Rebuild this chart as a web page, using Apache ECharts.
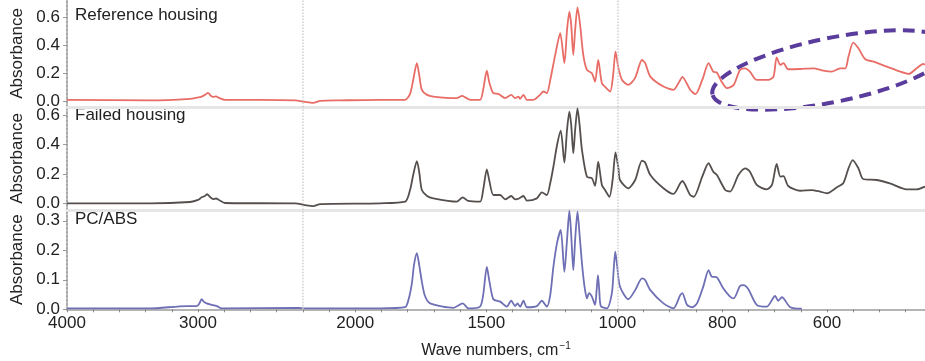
<!DOCTYPE html>
<html><head><meta charset="utf-8">
<script src="https://cdn.jsdelivr.net/npm/echarts@6/dist/echarts.min.js"></script>
<style>html,body{margin:0;padding:0;background:#fff}#c{width:925px;height:361px}</style>
</head><body><div id="c"></div>
<script>
// ---- data (wavenumber cm^-1, absorbance) ----
const wnRef = [4000,3366,3061,3000,2977,2947,2924,2901,2885,2863,2840,2794,2527,2259,2192,2161,2134,2058,1905,1810,1791,1779,1765,1756,1746,1726,1702,1613,1593,1577,1562,1524,1512,1498,1489,1473,1454,1428,1405,1390,1377,1371,1358,1345,1320,1295,1282,1269,1256,1237,1218,1202,1192,1183,1176,1168,1161,1152,1142,1130,1116,1097,1085,1073,1059,1043,1027,1016,1007,998,991,979,966,953,947,937,912,893,880,876,861,851,838,826,817,810,801,791,778,766,756,747,734,712,702,696,689,683,674,651,626,607,591,575,565,559,550,540,527,511,486,460,444,429,416,413];
const absRef = [0.011,0.007,0.018,0.028,0.032,0.046,0.060,0.039,0.032,0.035,0.025,0.011,0.011,0.007,-0.004,-0.011,0.004,0.007,0.011,0.011,0.053,0.152,0.271,0.188,0.082,0.046,0.034,0.023,0.039,0.025,0.011,0.011,0.082,0.218,0.138,0.058,0.053,0.023,0.046,0.023,0.034,0.018,0.046,0.011,0.011,0.046,0.070,0.058,0.152,0.330,0.484,0.271,0.507,0.637,0.543,0.330,0.507,0.668,0.543,0.330,0.223,0.200,0.140,0.294,0.129,0.096,0.070,0.188,0.353,0.238,0.152,0.117,0.167,0.294,0.273,0.176,0.105,0.082,0.152,0.174,0.082,0.051,0.152,0.271,0.211,0.204,0.140,0.094,0.117,0.223,0.235,0.211,0.152,0.152,0.176,0.313,0.259,0.271,0.228,0.230,0.235,0.218,0.211,0.235,0.235,0.318,0.417,0.377,0.299,0.282,0.247,0.211,0.195,0.235,0.266,0.259];

const wnFailed = [4000,3366,3061,3000,2972,2947,2931,2908,2885,2863,2840,2794,2259,2192,2161,2134,1905,1810,1791,1779,1765,1756,1746,1726,1702,1613,1590,1569,1524,1512,1498,1489,1473,1447,1428,1405,1390,1375,1358,1345,1307,1288,1269,1256,1244,1230,1216,1202,1192,1183,1176,1168,1161,1152,1144,1135,1116,1097,1085,1073,1059,1047,1030,1018,1007,998,995,979,966,953,947,937,912,893,880,876,861,854,838,826,817,810,794,785,769,756,747,734,715,705,696,689,683,674,651,629,613,600,581,569,559,551,540,531,505,480,448,429,413];
const absFailed = [-0.002,-0.003,0.007,0.021,0.039,0.048,0.060,0.041,0.027,0.031,0.021,0.0,-0.003,-0.014,-0.021,-0.007,-0.002,0.009,0.089,0.192,0.288,0.213,0.089,0.048,0.032,0.009,0.039,0.014,0.009,0.089,0.231,0.158,0.055,0.055,0.025,0.048,0.025,0.031,0.048,0.016,0.032,0.073,0.055,0.137,0.249,0.398,0.497,0.277,0.501,0.627,0.536,0.341,0.501,0.650,0.536,0.364,0.180,0.170,0.117,0.284,0.124,0.089,0.043,0.158,0.348,0.240,0.158,0.101,0.158,0.291,0.278,0.192,0.101,0.062,0.135,0.151,0.055,0.043,0.181,0.273,0.215,0.192,0.089,0.078,0.192,0.238,0.215,0.124,0.094,0.124,0.268,0.181,0.185,0.117,0.084,0.089,0.078,0.067,0.108,0.135,0.238,0.295,0.238,0.165,0.158,0.135,0.094,0.094,0.112];

const wnPCABS = [4000,3366,3086,3010,2992,2972,2954,2934,2901,2857,2819,2237,2192,1905,1810,1797,1784,1776,1765,1756,1746,1734,1714,1626,1590,1568,1524,1512,1498,1489,1473,1447,1422,1405,1390,1381,1371,1358,1345,1307,1288,1269,1256,1244,1230,1216,1202,1192,1183,1176,1168,1161,1152,1144,1135,1126,1116,1108,1097,1085,1079,1074,1069,1063,1040,1021,1014,1008,1001,995,979,966,953,947,937,912,893,880,876,867,857,848,836,826,820,810,798,785,778,766,759,750,734,715,699,693,686,670,648];
const absPCABS = [0.003,0.003,0.011,0.011,0.018,0.034,0.025,0.020,0.016,0.011,0.003,0.005,0.003,0.003,0.007,0.032,0.088,0.150,0.190,0.150,0.094,0.045,0.020,0.005,0.020,0.003,0.009,0.048,0.144,0.099,0.034,0.026,0.009,0.029,0.011,0.020,0.009,0.029,0.007,0.011,0.029,0.009,0.048,0.144,0.225,0.269,0.127,0.235,0.334,0.252,0.133,0.235,0.331,0.252,0.156,0.082,0.037,0.055,0.043,0.015,0.065,0.116,0.065,0.011,0.003,0.054,0.133,0.195,0.150,0.077,0.034,0.065,0.105,0.099,0.065,0.020,0.003,0.048,0.055,0.015,0.007,0.020,0.077,0.133,0.111,0.108,0.071,0.043,0.037,0.079,0.082,0.068,0.015,0.009,0.045,0.029,0.041,0.007,0.002];

const panelNames = ['Reference housing', 'Failed housing', 'PC/ABS'];
const xTickLabels = [4000, 3000, 2000, 1500, 1000, 800, 600];
const yTicksHousing = [0, 0.2, 0.4, 0.6];
const yTicksPCABS = [0, 0.1, 0.2, 0.3];
const scaleBreaks = [2200, 1000];
const xStart = 4000, xEnd = 413;

// piecewise wavenumber scale (each section below a break is stretched x2)
function toAxis(w) {
  if (w >= scaleBreaks[0]) return xStart - w;
  const s1 = xStart - scaleBreaks[0];
  if (w >= scaleBreaks[1]) return s1 + (scaleBreaks[0] - w) * 2;
  return s1 + (scaleBreaks[0] - scaleBreaks[1]) * 2 + (scaleBreaks[1] - w) * 4;
}
const pairs = (ws, as) => ws.map((w, i) => [toAxis(w), as[i]]);
const xMax = toAxis(xEnd);

const font = 'Liberation Sans, Arial, sans-serif';
const txt = '#222';
const colors = ['#e86d66', '#55504e', '#6e6fb4'];
const series = [[wnRef, absRef], [wnFailed, absFailed], [wnPCABS, absPCABS]];
const yRanges = [[-0.04, 0.72], [-0.048, 0.659], [0, 0.3366]];
const grids = [
  {left: 67, right: 0, top: 0, height: 107},
  {left: 67, right: 0, top: 107, height: 103},
  {left: 67, right: 0, top: 210, height: 99.3}
];

const xAxes = grids.map((g, i) => ({
  type: 'value', gridIndex: i, min: 0, max: xMax, interval: 200,
  axisLine: {show: true, onZero: false, lineStyle: {color: i === 2 ? '#b4b4b4' : '#e6e6e6', width: i === 2 ? 2 : 3}},
  axisTick: {show: i === 2, length: 3, lineStyle: {color: '#888'}},
  axisLabel: i === 2 ? {
    show: true, customValues: xTickLabels.map(toAxis), formatter: v => {
      const idx = xTickLabels.map(toAxis).findIndex(t => Math.abs(t - v) < 1e-6);
      return idx >= 0 ? String(xTickLabels[idx]) : '';
    },
    fontSize: 17, color: txt, fontFamily: font, margin: 6
  } : {show: false},
  splitLine: {show: false},
  name: i === 2 ? '{a|Wave numbers, cm}{s|\u22121}' : '',
  nameLocation: 'middle', nameGap: 32,
  nameTextStyle: {rich: {
    a: {fontSize: 16, color: txt, fontFamily: font},
    s: {fontSize: 10, color: txt, fontFamily: font, verticalAlign: 'top', padding: [0, 0, 8, 1]}
  }}
}));

const yAxes = grids.map((g, i) => {
  const ticks = i === 2 ? yTicksPCABS : yTicksHousing;
  return {
    type: 'value', gridIndex: i, min: yRanges[i][0], max: yRanges[i][1],
    axisLine: {show: true, lineStyle: {color: '#a8a8a8', width: 2, type: 'dotted'}},
    axisTick: {show: true, customValues: ticks, length: 4, lineStyle: {color: '#999'}},
    axisLabel: {show: true, customValues: ticks, formatter: v => v.toFixed(1),
      fontSize: 17, color: txt, fontFamily: font, margin: 7},
    splitLine: {show: false},
    name: 'Absorbance', nameLocation: 'middle', nameGap: 41,
    nameTextStyle: {fontSize: 17, color: txt, fontFamily: font}
  };
});

const option = {
  animation: false,
  backgroundColor: '#fff',
  grid: grids,
  xAxis: xAxes,
  yAxis: yAxes,
  series: series.map((s, i) => ({
    type: 'line', xAxisIndex: i, yAxisIndex: i,
    data: pairs(s[0], s[1]), showSymbol: false, symbol: 'none', smooth: 0.25,
    lineStyle: {color: colors[i], width: 1.8},
    markLine: {
      silent: true, symbol: 'none', label: {show: false},
      lineStyle: {color: '#cfcfcf', type: 'dotted', width: 1.5},
      data: scaleBreaks.map(b => ({xAxis: toAxis(b)}))
    }
  })),
  graphic: [
    ...panelNames.map((n, i) => ({
      type: 'text', left: 75, top: [7, 107, 211][i],
      style: {text: n, fontSize: 17, fill: txt, fontFamily: font}
    })),
    {
      type: 'ellipse', x: 832, y: 70, rotation: 11.5 * Math.PI / 180,
      shape: {cx: 0, cy: 0, rx: 122, ry: 32},
      style: {fill: 'none', stroke: '#5a3c9c', lineWidth: 4, lineDash: [12, 7]}
    }
  ]
};
const chart = echarts.init(document.getElementById('c'), null, {renderer: 'canvas'});
chart.setOption(option);
</script></body></html>
